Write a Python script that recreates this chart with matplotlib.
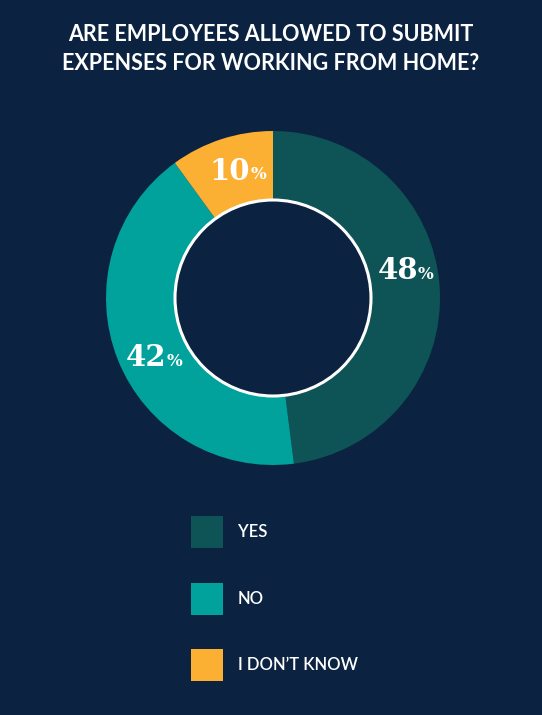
import matplotlib
matplotlib.use("Agg")
import matplotlib.pyplot as plt
from matplotlib.patches import Circle, Rectangle
import numpy as np

title = "ARE EMPLOYEES ALLOWED TO SUBMIT\nEXPENSES FOR WORKING FROM HOME?"
labels = ["YES", "NO", "I DON\u2019T KNOW"]
values = [48, 42, 10]
colors = ["#0e5356", "#00a29b", "#fbb034"]
bg = "#0b2341"

W, H = 542, 715
fig = plt.figure(figsize=(W / 100, H / 100), dpi=100, facecolor=bg)
ax = fig.add_axes([0, 0, 1, 1])

# donut (pixel coordinates, y measured from bottom)
cx, cy = 273, H - 298
r_out, r_in = 167, 98
wedges, _ = ax.pie(values, colors=colors, startangle=90, counterclock=False,
                   radius=r_out, center=(cx, cy), frame=True,
                   wedgeprops=dict(width=r_out - r_in, linewidth=0))
ax.set_xlim(0, W)
ax.set_ylim(0, H)
ax.set_aspect("equal")
ax.axis("off")
ax.add_patch(Circle((cx, cy), r_in, facecolor="none", edgecolor="white", lw=2.2, zorder=5))

# percentage labels
nudge = [9, 4, -2]  # degrees
r_lab = 134
for w, v, n in zip(wedges, values, nudge):
    ang = np.deg2rad((w.theta1 + w.theta2) / 2 + n)
    x = cx + r_lab * np.cos(ang) - 6
    y = cy + r_lab * np.sin(ang) - 2
    t = ax.text(x, y, str(v), color="white", fontsize=21, fontweight="heavy",
                family="DejaVu Serif", ha="center", va="center", zorder=6)
    ax.annotate("%", xy=(1, 0.08), xycoords=t, color="white", fontsize=12,
                fontweight="bold", family="DejaVu Serif", ha="left", va="bottom",
                zorder=6)

# title
fig.text(0.5, 1 - 49 / H, title, color="white", fontsize=15.5, family="Lato",
         fontweight="bold", ha="center", va="center", linespacing=1.45)

# legend
y0, step = 532, 66.5
for i, (lab, c) in enumerate(zip(labels, colors)):
    yc = H - (y0 + i * step)
    ax.add_patch(Rectangle((191, yc - 16), 32, 32, facecolor=c, edgecolor="none"))
    ax.text(238, yc, lab, color="white", fontsize=12, family="Lato",
            fontweight="semibold", ha="left", va="center")

fig.savefig("out.png", dpi=100, facecolor=bg)
